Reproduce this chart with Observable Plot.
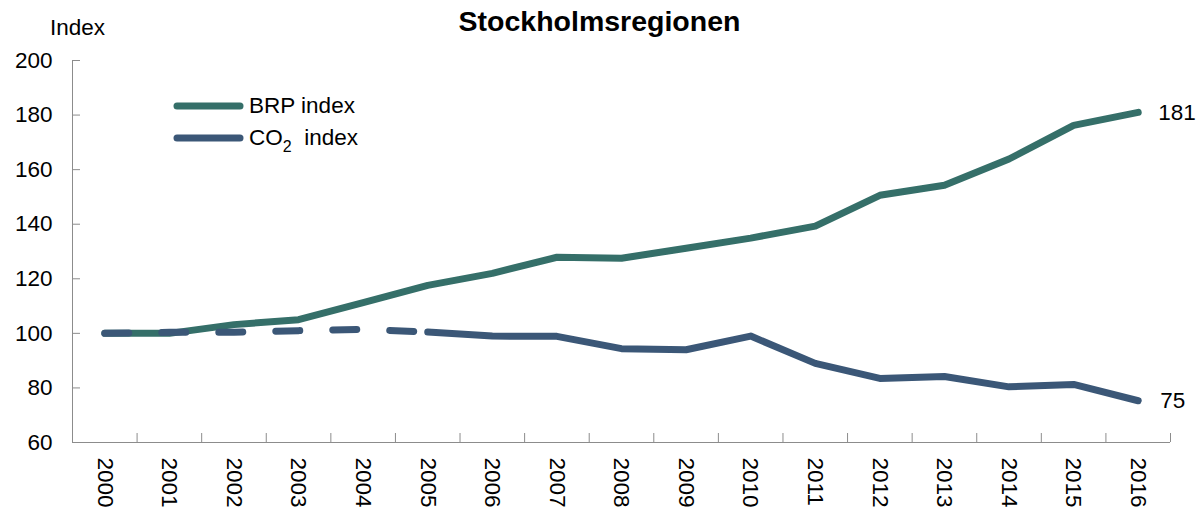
<!DOCTYPE html>
<html><head><meta charset="utf-8">
<script src="https://cdn.jsdelivr.net/npm/d3@7"></script>
<script src="https://cdn.jsdelivr.net/npm/@observablehq/plot@0.6"></script>
<style>
body{margin:0;background:#fff;font-family:"Liberation Sans",Arial,sans-serif;}
#wrap{position:relative;width:1199px;height:509px;overflow:hidden;}
#title{position:absolute;left:0;top:7px;width:1199px;text-align:center;font-weight:bold;font-size:28.5px;line-height:28px;color:#000;}
#ylabel{position:absolute;left:50px;top:17px;font-size:22.5px;line-height:22px;color:#000;}
#legend{position:absolute;left:172px;top:90px;font-size:22.5px;color:#000;}
.li{display:flex;align-items:center;height:32px;}
.li svg{margin-right:3px;}
sub{font-size:16px;vertical-align:-7px;line-height:0;}
</style></head>
<body><div id="wrap">
<div id="title">Stockholmsregionen</div>
<div id="ylabel">Index</div>
<div id="legend"></div>
</div>
<script>
const years = [2000,2001,2002,2003,2004,2005,2006,2007,2008,2009,2010,2011,2012,2013,2014,2015,2016];
const brpIndex = [100,100,103.2,105,111.3,117.6,122,127.9,127.5,131.2,134.9,139.3,150.6,154.3,163.9,176.2,181];
const co2Index = [100,100.4,100.4,101,101.5,100.5,99,98.9,94.4,94,99,89,83.5,84.2,80.4,81.3,75.3];
const seriesNames = ["BRP index","CO<sub>2</sub>&nbsp; index"];
const seriesColors = ["#356f69","#3b5777"];
const yTicks = [60,80,100,120,140,160,180,200];
const dashedUntil = 2005;

const rows = years.map((yr,i)=>({year:yr, brp:brpIndex[i], co2:co2Index[i]}));
const bounds = years.map(y=>y-0.5).concat([years[years.length-1]+0.5]);
const last = rows[rows.length-1];
const axisGray = "#8c8c8c";
const lw = 7;
const fs = 22.5;

const chart = Plot.plot({
  width:1199, height:509,
  marginLeft:72, marginRight:29, marginTop:60, marginBottom:67,
  style:{fontFamily:'"Liberation Sans", Arial, sans-serif', fontSize:fs+"px", color:"#000", background:"#fff"},
  x:{domain:[bounds[0], bounds[bounds.length-1]]},
  y:{domain:[60,200]},
  marks:[
    Plot.axisY({ticks:yTicks, tickSize:0, tickPadding:20, label:null, fontSize:fs}),
    Plot.axisY({ticks:yTicks, tickSize:-8, tickFormat:()=>"", label:null, stroke:axisGray}),
    Plot.axisX({ticks:years, tickSize:0, tickPadding:15, tickRotate:90, tickFormat:d=>String(d), label:null, fontSize:fs}),
    Plot.axisX({ticks:bounds, tickSize:-9, tickFormat:()=>"", label:null, stroke:axisGray}),
    Plot.ruleX([bounds[0]], {stroke:axisGray}),
    Plot.ruleY([60], {stroke:axisGray}),
    Plot.line(rows, {x:"year", y:"brp", stroke:seriesColors[0], strokeWidth:lw, strokeLinecap:"round", strokeLinejoin:"round"}),
    Plot.line(rows.filter(d=>d.year>=dashedUntil), {x:"year", y:"co2", stroke:seriesColors[1], strokeWidth:lw, strokeLinecap:"round", strokeLinejoin:"round"}),
    Plot.line(rows.filter(d=>d.year<=dashedUntil), {x:"year", y:"co2", stroke:seriesColors[1], strokeWidth:lw, strokeLinecap:"round", strokeLinejoin:"round", strokeDasharray:"24,33"}),
    Plot.text([last], {x:"year", y:"brp", text:d=>String(Math.round(d.brp)), dx:20, textAnchor:"start", fontSize:fs}),
    Plot.text([last], {x:"year", y:"co2", text:d=>String(Math.round(d.co2)), dx:22, textAnchor:"start", fontSize:fs})
  ]
});
const wrap = document.getElementById("wrap");
chart.style.position="absolute"; chart.style.left="0"; chart.style.top="0";
wrap.insertBefore(chart, wrap.firstChild);

const legend = document.getElementById("legend");
seriesNames.forEach((n,i)=>{
  const d = document.createElement("div"); d.className="li";
  d.innerHTML = `<svg width="74" height="12"><line x1="5" y1="6" x2="68" y2="6" stroke="${seriesColors[i]}" stroke-width="${lw}" stroke-linecap="round"/></svg><span>${n}</span>`;
  legend.appendChild(d);
});
</script>
</body></html>
